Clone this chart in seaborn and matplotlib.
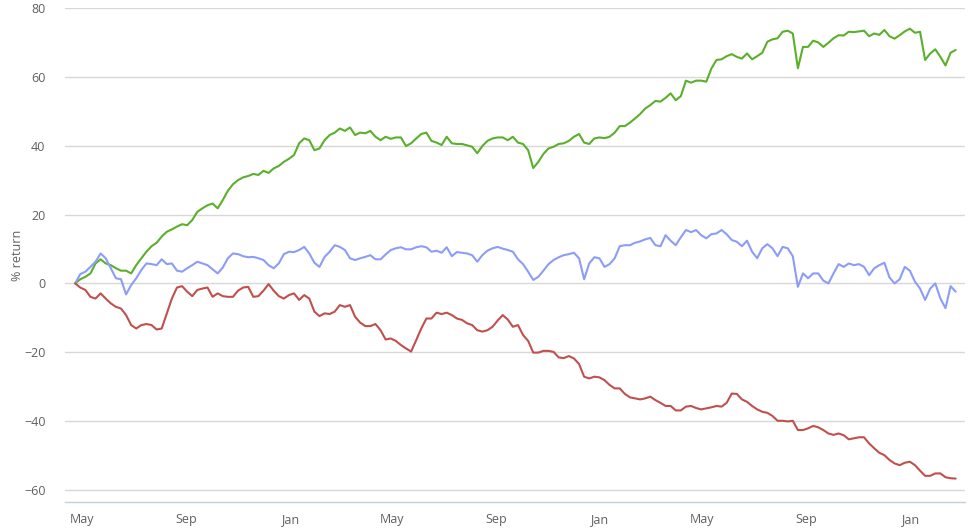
import numpy as np
import pandas as pd
import matplotlib
matplotlib.use("Agg")
import matplotlib.pyplot as plt
import matplotlib.dates as mdates
import seaborn as sns

start_date = "2010-04-23"
step = "6D"

green = [0.0, 1.2, 1.9, 2.9, 5.8, 7.0, 5.8, 5.3, 4.4, 3.7, 3.7, 2.9, 5.3, 7.3, 9.2, 10.8, 11.8, 13.6, 15.0, 15.7,
         16.5, 17.2, 16.9, 18.4, 20.8, 21.8, 22.7, 23.2,
         21.8, 24.2, 26.9, 28.8, 30.0, 30.8, 31.2, 31.8, 31.5, 32.7, 32.1, 33.4, 34.1, 35.3, 36.2, 37.3, 40.7, 42.1,
         41.6, 38.7, 39.2, 41.6, 43.1, 43.8, 45.0, 44.3, 45.3, 43.1, 43.8,
         43.6, 44.3, 42.6, 41.6, 42.6, 42.0, 42.4, 42.4, 39.9, 40.7, 42.1, 43.4, 43.8, 41.4, 40.9, 40.2, 42.6, 40.7,
         40.5, 40.5, 40.1, 39.7, 37.8, 39.9, 41.4, 42.1, 42.4, 42.4, 41.6, 42.6,
         40.9, 40.5, 38.7, 33.5, 35.3, 37.6, 39.2, 39.7, 40.5, 40.7, 41.4, 42.6, 43.4, 40.9, 40.5, 42.1, 42.4, 42.2,
         42.6, 43.8, 45.7, 45.7, 46.7, 47.9, 49.2, 50.8, 51.8, 53.0, 52.8,
         53.9, 55.2, 53.2, 54.4, 58.9, 58.3, 58.9, 58.9, 58.6, 62.4, 64.9, 65.1, 66.0, 66.6, 65.8, 65.3, 66.8, 65.1,
         66.0, 67.0, 70.2, 70.9, 71.2, 73.1, 73.4, 72.6, 62.5, 68.7, 68.7, 70.5,
         70.0, 68.7, 69.9, 71.2, 72.1, 72.0, 73.1, 73.0, 73.2, 73.4, 71.8, 72.6, 72.2, 73.6, 71.8, 71.1, 72.1, 73.2,
         74.0, 72.8, 73.1, 64.9, 66.8, 68.0, 65.8, 63.3, 67.0, 67.8]

blue = [0.0, 2.7, 3.4, 4.8, 6.3, 8.7, 7.3, 4.4, 1.5, 1.2, -3.2, -0.5, 1.5, 3.9, 5.8, 5.6, 5.3, 7.0, 5.6, 5.8,
        3.7, 3.4, 4.4, 5.3, 6.3, 5.8, 5.3, 4.1,
        2.9, 4.6, 7.3, 8.7, 8.5, 7.9, 7.6, 7.7, 7.3, 6.8, 5.3, 4.4, 5.8, 8.5, 9.2, 9.1, 9.7, 10.6,
        8.7, 6.0, 4.8, 7.7, 9.2, 11.1, 10.6, 9.7, 7.3, 6.8, 7.3,
        7.7, 8.2, 7.0, 7.0, 8.4, 9.7, 10.2, 10.5, 9.9, 9.9, 10.5, 10.8, 10.5, 9.2, 9.5, 8.9, 10.5, 7.9,
        9.1, 8.9, 8.7, 8.2, 6.3, 8.2, 9.5, 10.2, 10.6, 10.1, 9.7, 9.2,
        7.0, 5.6, 3.4, 1.0, 1.9, 3.7, 5.6, 6.8, 7.6, 8.2, 8.5, 8.9, 7.3, 1.2, 5.8, 7.6, 7.3, 4.8,
        5.6, 7.3, 10.8, 11.1, 11.1, 11.8, 12.2, 12.8, 13.2, 11.1, 10.8,
        14.0, 12.4, 11.1, 13.4, 15.5, 14.9, 15.5, 14.0, 13.1, 14.3, 14.5, 15.5, 14.3, 12.6, 12.1, 10.8, 12.4, 9.2,
        7.3, 10.2, 11.4, 10.2, 7.9, 10.6, 10.2, 7.9, -1.0, 2.9, 1.5, 2.9,
        2.9, 0.8, 0.0, 2.9, 5.6, 4.8, 5.8, 5.3, 5.6, 4.8, 2.4, 4.4, 5.3, 6.0, 1.7, 0.0, 1.2, 4.8,
        3.7, 0.5, -1.5, -4.8, -1.5, 0.0, -4.4, -7.2, -0.8, -2.4]

red = [0.0, -1.2, -1.9, -3.9, -4.4, -2.9, -4.4, -5.8, -6.8, -7.3, -9.2, -12.1, -13.1, -12.1, -11.8, -12.1,
       -13.4, -13.1, -8.7, -4.4, -1.2, -0.8, -2.4, -3.7, -1.9, -1.5, -1.2, -3.9,
       -2.9, -3.7, -3.9, -3.9, -2.1, -1.2, -1.0, -3.9, -3.7, -2.1, -0.2, -2.1, -3.7, -4.4, -3.4, -2.9, -4.8, -3.4,
       -4.4, -8.2, -9.5, -8.7, -8.9, -8.2, -6.3, -6.8, -6.3, -9.7, -11.4,
       -12.4, -12.4, -11.8, -13.6, -16.3, -16.0, -16.7, -17.9, -18.9, -19.8, -16.5, -13.1, -10.2, -10.2, -8.5,
       -8.9, -8.5, -9.2, -10.2, -10.6, -11.6, -12.1, -13.6, -14.0, -13.6, -12.6, -10.8, -9.2, -10.5, -12.6,
       -12.1, -15.0, -16.7, -20.1, -20.1, -19.6, -19.6, -19.9, -21.5, -21.7, -21.1, -21.8, -23.4, -27.1, -27.6,
       -27.1, -27.3, -28.1, -29.5, -30.5, -30.5, -32.1, -33.1, -33.4, -33.7, -33.4, -32.9, -33.9, -34.7,
       -35.6, -35.6, -36.9, -36.9, -35.8, -35.6, -36.2, -36.6, -36.3, -36.0, -35.6, -35.8, -34.7, -32.0, -32.1,
       -33.7, -34.4, -35.6, -36.6, -37.3, -37.6, -38.5, -39.9, -39.9, -40.1, -39.9, -42.6, -42.6, -42.1, -41.4,
       -41.8, -42.6, -43.6, -44.0, -43.6, -44.1, -45.3, -45.0, -44.7, -44.7, -46.5, -47.9, -49.2, -49.9, -51.3,
       -52.3, -52.8, -52.1, -51.8, -52.8, -54.4, -55.9, -55.9, -55.2, -55.2, -56.3, -56.6, -56.7]

series_names = ["green", "blue", "red"]
series_colors = ["#5aaf2b", "#8d9cf7", "#c0504d"]
y_ticks = [-60, -40, -20, 0, 20, 40, 60, 80]
y_label = "% return"

dates = pd.date_range(start_date, periods=len(green), freq=step)
frames = []
for name, vals in zip(series_names, [green, blue, red]):
    frames.append(pd.DataFrame({"date": dates, "value": vals, "series": name}))
df = pd.concat(frames, ignore_index=True)

sns.set_style("white")
plt.rcParams["font.family"] = ["Open Sans", "DejaVu Sans"]

fig = plt.figure(figsize=(9.73, 5.30), dpi=100)
ax = fig.add_axes([65 / 973, 1 - 502 / 530, 900 / 973, 494 / 530])

sns.lineplot(data=df, x="date", y="value", hue="series", hue_order=series_names,
             palette=dict(zip(series_names, series_colors)), linewidth=1.5,
             legend=False, ax=ax, estimator=None)

ax.set_ylim(-63.5, 80)
ax.set_xlim(pd.Timestamp("2010-04-11"), pd.Timestamp("2013-03-07"))
ax.set_yticks(y_ticks)
ax.yaxis.grid(True, color="#d8d8d8", linewidth=1)
ax.xaxis.grid(False)
ax.set_axisbelow(True)

ax.xaxis.set_major_locator(mdates.MonthLocator(bymonth=[1, 5, 9]))
ax.xaxis.set_major_formatter(mdates.DateFormatter("%b"))

for side in ["top", "right", "left"]:
    ax.spines[side].set_visible(False)
ax.spines["bottom"].set_color("#c0d0e0")
ax.spines["bottom"].set_linewidth(1)

ax.tick_params(axis="x", colors="#c0d0e0", length=6, width=1, labelcolor="#606060",
               labelsize=9, pad=2)
ax.tick_params(axis="y", length=0, labelcolor="#606060", labelsize=9, pad=14)

ax.set_xlabel("")
ax.set_ylabel(y_label, color="#606060", fontsize=9)
ax.yaxis.set_label_coords(-0.0455, 0.5)

fig.savefig("out.png", dpi=100, facecolor="white")
